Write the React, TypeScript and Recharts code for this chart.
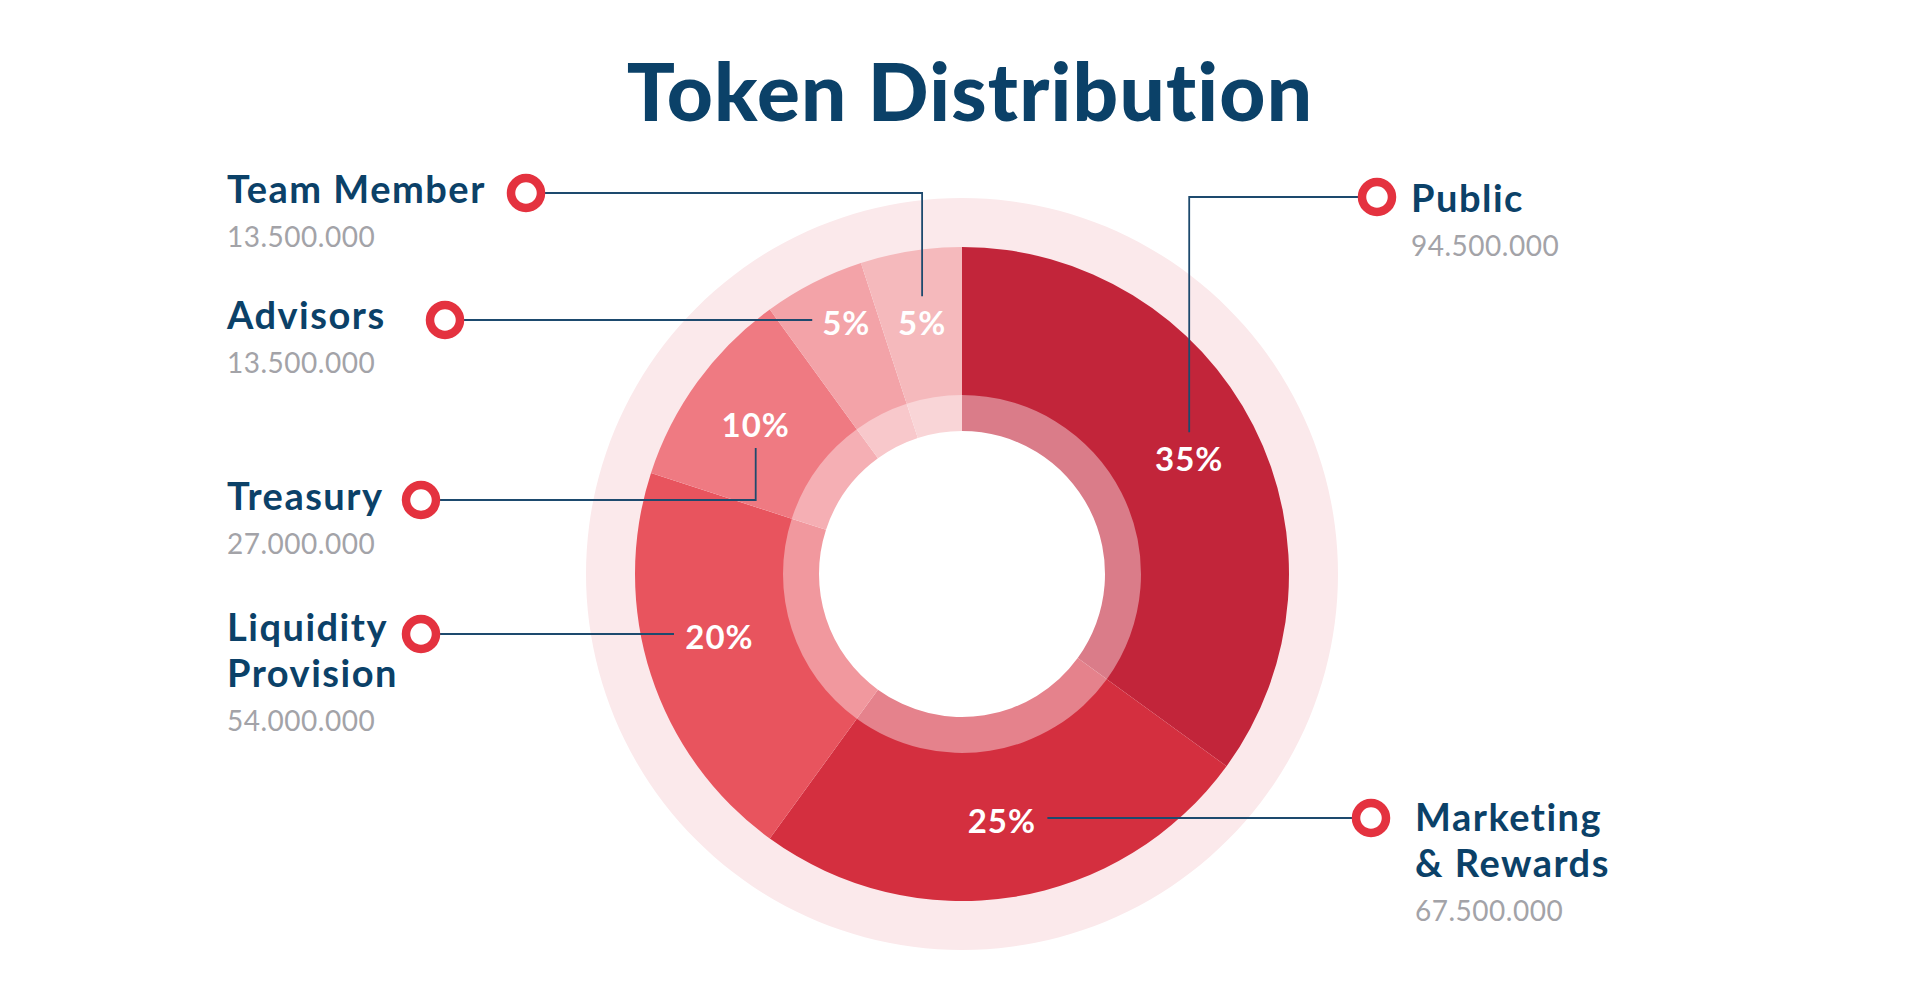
import React from "react";
import { PieChart, Pie, Cell } from "recharts";

// Token allocation, clockwise from 12 o'clock.
const categories = [
  "Public",
  "Marketing\n& Rewards",
  "Liquidity\nProvision",
  "Treasury",
  "Advisors",
  "Team Member",
];
const tokens = [94500000, 67500000, 54000000, 27000000, 13500000, 13500000];
const sliceColors = ["#c2253a", "#d42f3f", "#e8545e", "#ef7a82", "#f3a3a8", "#f5b9bc"];

const data = categories.map((name, i) => ({ name, value: tokens[i] }));
const ringData = [{ name: "total", value: tokens.reduce((a, b) => a + b, 0) }];

// Where each legend entry sits and how its leader line runs to the slice label.
const callouts = [
  { side: "right", mx: 1377, my: 197, tx: 1411, ty: 212, route: "elbow" },
  { side: "right", mx: 1371, my: 818, tx: 1415, ty: 831, route: "straight" },
  { side: "left", mx: 421, my: 634, tx: 227, ty: 641, route: "straight" },
  { side: "left", mx: 421, my: 500, tx: 227, ty: 510, route: "elbow" },
  { side: "left", mx: 445, my: 320, tx: 227, ty: 329, route: "straight" },
  { side: "left", mx: 526, my: 193, tx: 227, ty: 203, route: "elbow" },
];

const NAVY = "#0b4168";
const GREY = "#a3a3a8";
const MARK = "#e4323f";
const FONT = "Lato, 'Open Sans', sans-serif";
const RAD = Math.PI / 180;
const LABEL_R = 255;
const MARK_R = 19;
const noLig = { fontVariantLigatures: "none" as const };

// mix a hex colour with white
function lighten(hex: string, t: number) {
  const n = parseInt(hex.slice(1), 16);
  const ch = [(n >> 16) & 255, (n >> 8) & 255, n & 255].map((c) =>
    Math.round(c + (255 - c) * t)
  );
  return "#" + ch.map((c) => c.toString(16).padStart(2, "0")).join("");
}

const fmt = (v: number) => String(v).replace(/\B(?=(\d{3})+(?!\d))/g, ".");

function renderCallout(props: any) {
  const { cx, cy, midAngle, percent, index } = props;
  const c = callouts[index];
  const lx = cx + LABEL_R * Math.cos(-midAngle * RAD);
  let ly = cy + LABEL_R * Math.sin(-midAngle * RAD);
  const text = `${Math.round(percent * 100)}%`;
  const halfW = text.length * 11.5;
  const sx = c.side === "left" ? c.mx + MARK_R : c.mx - MARK_R;

  let path: string;
  if (c.route === "straight") {
    ly = c.my + 2;
    const ex = c.side === "left" ? lx - halfW - 11 : lx + halfW + 11;
    path = `M${sx},${c.my}H${ex}`;
  } else {
    const ey = ly > c.my ? ly - 26 : ly + 24;
    path = `M${sx},${c.my}H${lx}V${ey}`;
  }

  const lines = data[index].name.split("\n");
  const valueY = c.ty + (lines.length - 1) * 46 + 44;

  return (
    <g key={`callout-${index}`}>
      <path d={path} fill="none" stroke="#1d4a6e" strokeWidth={1.8} />
      <circle cx={c.mx} cy={c.my} r={15} fill="#fff" stroke={MARK} strokeWidth={8.5} />
      <text
        x={lx}
        y={ly}
        textAnchor="middle"
        dominantBaseline="central"
        fill="#fff"
        fontFamily={FONT}
        fontWeight={700}
        fontSize={33}
        letterSpacing={1}
        style={noLig}
      >
        {text}
      </text>
      <text
        x={c.tx}
        y={c.ty}
        fill={NAVY}
        fontFamily={FONT}
        fontWeight={700}
        fontSize={38}
        letterSpacing={1.5}
        style={noLig}
      >
        {lines.map((ln, i) => (
          <tspan key={i} x={c.tx} dy={i === 0 ? 0 : 46}>
            {ln}
          </tspan>
        ))}
      </text>
      <text
        x={c.tx}
        y={valueY}
        fill={GREY}
        fontFamily={FONT}
        fontWeight={400}
        fontSize={28}
        letterSpacing={0.5}
      >
        {fmt(tokens[index])}
      </text>
    </g>
  );
}

export default function App() {
  const margin = { top: 0, right: 0, bottom: 0, left: 0 };
  return (
    <div style={{ position: "absolute", left: 0, top: 0, width: 1925, height: 1007, background: "#fff" }}>
      <PieChart width={1925} height={1007} margin={margin}>
        <Pie
          data={ringData}
          dataKey="value"
          cx={962}
          cy={574}
          innerRadius={320}
          outerRadius={376}
          startAngle={90}
          endAngle={-270}
          fill="#fbe9eb"
          stroke="none"
          isAnimationActive={false}
        />
        <Pie
          data={data}
          dataKey="value"
          cx={962}
          cy={574}
          innerRadius={143}
          outerRadius={180}
          startAngle={90}
          endAngle={-270}
          stroke="none"
          isAnimationActive={false}
        >
          {data.map((d, i) => (
            <Cell key={d.name} fill={lighten(sliceColors[i], 0.4)} />
          ))}
        </Pie>
        <Pie
          data={data}
          dataKey="value"
          cx={962}
          cy={574}
          innerRadius={179}
          outerRadius={327}
          startAngle={90}
          endAngle={-270}
          stroke="none"
          label={renderCallout}
          labelLine={false}
          isAnimationActive={false}
        >
          {data.map((d, i) => (
            <Cell key={d.name} fill={sliceColors[i]} />
          ))}
        </Pie>
      </PieChart>
      <svg
        width={1925}
        height={160}
        style={{ position: "absolute", left: 0, top: 0, pointerEvents: "none" }}
      >
        <text
          x={970}
          y={121}
          textAnchor="middle"
          fill={NAVY}
          fontFamily={FONT}
          fontWeight={900}
          fontSize={80}
          letterSpacing={1.2}
          style={noLig}
        >
          Token Distribution
        </text>
      </svg>
    </div>
  );
}
